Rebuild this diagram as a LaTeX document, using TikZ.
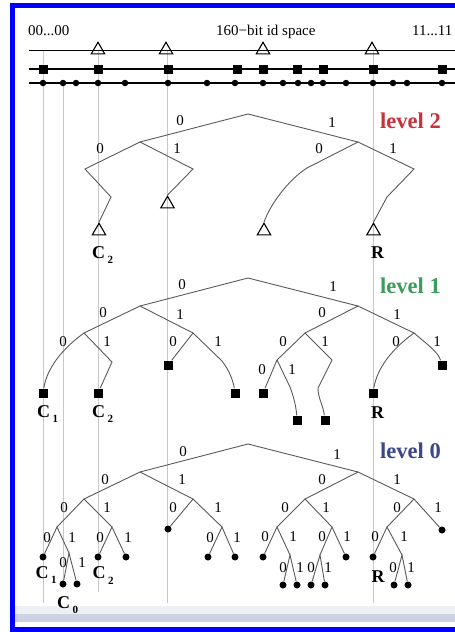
\documentclass[tikz,border=0pt]{standalone}
\usepackage{fontspec}
\setmainfont{Liberation Serif}
\usetikzlibrary{shapes.geometric}
\definecolor{lvred}{RGB}{200,50,60}
\definecolor{lvgreen}{RGB}{60,156,90}
\definecolor{lvblue}{RGB}{60,70,136}
\definecolor{edgegray}{RGB}{90,90,90}
\definecolor{guidegray}{RGB}{200,200,200}
\definecolor{framebl}{RGB}{0,0,255}
\definecolor{barcol}{RGB}{205,211,227}
\newcommand{\csub}[2]{C\hspace{2.5pt}\raisebox{-5.5pt}{\fontsize{11}{11}\selectfont #2}}
\begin{document}
\begin{tikzpicture}[x=1pt,y=-1pt,
 edge/.style={draw=edgegray, line width=0.9pt},
 guide/.style={draw=guidegray, line width=0.6pt},
 axis/.style={draw=black, line width=1.4pt},
 leafsq/.style={fill=black, minimum size=9pt, inner sep=0pt},
 leafdot/.style={circle, fill=black, minimum size=7pt, inner sep=0pt},
 leaftri/.style={regular polygon, regular polygon sides=3, draw=black, line width=1.1pt, minimum size=15.5pt, inner sep=0pt},
 bit/.style={font=\fontsize{15}{15}\selectfont, inner sep=0pt},
 toptext/.style={font=\fontsize{15}{15}\selectfont, inner sep=0pt, anchor=base west},
 cname/.style={font=\fontsize{18}{18}\selectfont\bfseries, inner sep=0pt, anchor=base west},
 lvl/.style={font=\fontsize{22.5}{22.5}\selectfont\bfseries, inner sep=0pt, anchor=base west},
]
\useasboundingbox (0,0) rectangle (455,632);
\clip (0,0) rectangle (455,632);
\fill[white] (0,0) rectangle (455,632);
% frame and bottom bar
\fill[barcol!35] (15,606) rectangle (460,614);
\fill[barcol] (15,614) rectangle (460,622);
\draw[framebl, line width=5pt] (12.5,5.5) rectangle (480,629.5);

% top texts
\node[toptext] (lo) at (28,35) {00...00};
\node[toptext] (idsp) at (216,35) {160−bit id space};
\node[toptext] (hi) at (412,35) {11...11};

% guide lines
\coordinate (g1t) at (43,50.7);  \coordinate (g1b) at (43,603);
\coordinate (g2t) at (63,83);    \coordinate (g2b) at (63,584);
\coordinate (g3t) at (98,50.7);  \coordinate (g3b) at (98,592);
\coordinate (g4t) at (167,50.7); \coordinate (g4b) at (167,603);
\coordinate (g5t) at (373,50.7); \coordinate (g5b) at (373,603);
\foreach \g in {1,...,5} \draw[guide] (g\g t) -- (g\g b);

% id space axes
\coordinate (l1s) at (29,50.7); \coordinate (l1e) at (460,50.7);
\coordinate (l2s) at (29,69);   \coordinate (l2e) at (460,69);
\coordinate (l3s) at (29,83);   \coordinate (l3e) at (460,83);
\draw[axis, line width=1.2pt] (l1s) -- (l1e);
\draw[axis] (l2s) -- (l2e);
\draw[axis] (l3s) -- (l3e);
\foreach \x [count=\i] in {98,166,263,372}
  \node[leaftri] (t\i) at (\x,50) {};
\foreach \x [count=\i] in {43,98,168,237,263,297,323,373,442}
  \node[leafsq] (s\i) at (\x,69) {};
\foreach \x [count=\i] in {43,63,76,98,125,168,207,235,263,283,298,311,323,346,373,393,407,442}
  \node[leafdot, minimum size=6.5pt] (d\i) at (\x,83) {};

% ---------------- level 2 ----------------
\node[lvl, text=lvred] (lv2) at (380,128) {level 2};
\coordinate (a) at (248,114);
\coordinate (a0) at (140,142);
\coordinate (a1) at (358,142);
\coordinate (a00) at (85,169);
\coordinate (a00k) at (111,197);
\coordinate (a01) at (193,169);
\coordinate (a10) at (307,168);
\coordinate (a11) at (414,169);
\coordinate (a11k) at (387,197);
\node[leaftri] (a00t) at (99,231) {};
\node[leaftri] (a01t) at (167.5,204) {};
\node[leaftri] (a10t) at (264,231) {};
\node[leaftri] (a11t) at (373.5,231) {};
\draw[edge] (a0) -- (a) -- (a1);
\draw[edge] (a00t.corner 1) -- (a00k) -- (a00) -- (a0) -- (a01) -- (a01t.corner 1);
\draw[edge] (a10t.corner 1) .. controls (270,205) and (288,180) .. (a10) -- (a1) -- (a11) -- (a11k) -- (a11t.corner 1);
\node[bit] (a-l0) at (180,121) {0};
\node[bit] (a-l1) at (332,123) {1};
\node[bit] (a-l00) at (100,149) {0};
\node[bit] (a-l01) at (177,149) {1};
\node[bit] (a-l10) at (319,149) {0};
\node[bit] (a-l11) at (393,149) {1};
\node[cname] (a-c2) at (92,258) {\csub{C}{2}};
\node[cname] (a-r) at (371,258) {R};

% ---------------- level 1 ----------------
\node[lvl, text=lvgreen] (lv1) at (380,293) {level 1};
\coordinate (b) at (248,278);
\coordinate (b0) at (140,306);
\coordinate (b1) at (358,306);
\coordinate (b00) at (84,333);
\coordinate (b01) at (193,333);
\coordinate (b10) at (305,333);
\coordinate (b11) at (414,333);
\coordinate (b001k) at (112,362);
\coordinate (b011k) at (222,361);
\coordinate (b100) at (277,360);
\coordinate (b1001k) at (290,387);
\coordinate (b101k) at (332,360);
\coordinate (b101m) at (318,388);
\node[leafsq] (b000) at (43,393) {};
\node[leafsq] (b001) at (98,393) {};
\node[leafsq] (b010) at (168,365) {};
\node[leafsq] (b011) at (235,393) {};
\node[leafsq] (b1000) at (263,393) {};
\node[leafsq] (b1001) at (297,420) {};
\node[leafsq] (b101) at (325,420) {};
\node[leafsq] (b110) at (373,393) {};
\node[leafsq] (b111) at (442,365) {};
\draw[edge] (b0) -- (b) -- (b1);
\draw[edge] (b00) -- (b0) -- (b01);
\draw[edge] (b10) -- (b1) -- (b11);
\draw[edge] (b000) .. controls (47,368) and (62,349) .. (b00) -- (b001k) -- (b001);
\draw[edge] (b010) -- (b01) -- (b011k) .. controls (229,370) and (233,380) .. (b011);
\draw[edge] (b1000) -- (b100) -- (b10) -- (b101k) -- (b101m) .. controls (318,398) and (323,405) .. (b101);
\draw[edge] (b100) -- (b1001k) .. controls (293,395) and (296,405) .. (b1001);
\draw[edge] (b110) .. controls (377,368) and (392,349) .. (b11) .. controls (428,345) and (438,352) .. (b111);
\node[bit] (b-l0) at (182,285) {0};
\node[bit] (b-l1) at (333,287) {1};
\node[bit] (b-l00) at (103,313) {0};
\node[bit] (b-l01) at (180,315) {1};
\node[bit] (b-l10) at (322,313) {0};
\node[bit] (b-l11) at (397,315) {1};
\node[bit] (b-l000) at (63,342) {0};
\node[bit] (b-l001) at (107,342) {1};
\node[bit] (b-l010) at (173,342) {0};
\node[bit] (b-l011) at (218,342) {1};
\node[bit] (b-l100) at (283,342) {0};
\node[bit] (b-l101) at (325,342) {1};
\node[bit] (b-l110) at (396,342) {0};
\node[bit] (b-l111) at (437,342) {1};
\node[bit] (b-l1000) at (262,370) {0};
\node[bit] (b-l1001) at (292,370) {1};
\node[cname] (b-c1) at (37,417) {\csub{C}{1}};
\node[cname] (b-c2) at (92,417) {\csub{C}{2}};
\node[cname] (b-r) at (371,418) {R};

% ---------------- level 0 ----------------
\node[lvl, text=lvblue] (lv0) at (380,458) {level 0};
\coordinate (c) at (248,444);
\coordinate (c0) at (140,472);
\coordinate (c1) at (358,472);
\coordinate (c00) at (84,499);
\coordinate (c01) at (193,499);
\coordinate (c10) at (305,499);
\coordinate (c11) at (414,499);
\coordinate (c000) at (57,527);
\coordinate (c001) at (112,527);
\coordinate (c011) at (222,527);
\coordinate (c100) at (277,527);
\coordinate (c101) at (332,527);
\coordinate (c110) at (387,527);
\coordinate (c0001) at (69,553);
\coordinate (c1001) at (290,555);
\coordinate (c1010) at (320,555);
\coordinate (c1101) at (402,555);
\node[leafdot] (c010) at (168,529) {};
\node[leafdot] (c111) at (442,530) {};
\node[leafdot] (c0000) at (43,557) {};
\node[leafdot] (c00010) at (63,584) {};
\node[leafdot] (c00011) at (77,584) {};
\node[leafdot] (c0010) at (98,557) {};
\node[leafdot] (c0011) at (126,557) {};
\node[leafdot] (c0110) at (208,557) {};
\node[leafdot] (c0111) at (235,557) {};
\node[leafdot] (c1000) at (263,557) {};
\node[leafdot] (c10010) at (283,585) {};
\node[leafdot] (c10011) at (297,585) {};
\node[leafdot] (c1011) at (346,557) {};
\node[leafdot] (c10100) at (311,585) {};
\node[leafdot] (c10101) at (325,585) {};
\node[leafdot] (c1100) at (373,557) {};
\node[leafdot] (c11010) at (394,585) {};
\node[leafdot] (c11011) at (408,585) {};
\draw[edge] (c0) -- (c) -- (c1);
\draw[edge] (c00) -- (c0) -- (c01);
\draw[edge] (c10) -- (c1) -- (c11);
\draw[edge] (c000) -- (c00) -- (c001);
\draw[edge] (c010) -- (c01) -- (c011);
\draw[edge] (c100) -- (c10) -- (c101);
\draw[edge] (c110) -- (c11) -- (c111);
\draw[edge] (c0000) -- (c000) -- (c0001);
\draw[edge] (c00010) -- (c0001) -- (c00011);
\draw[edge] (c0010) -- (c001) -- (c0011);
\draw[edge] (c0110) -- (c011) -- (c0111);
\draw[edge] (c1000) -- (c100) -- (c1001);
\draw[edge] (c10010) -- (c1001) -- (c10011);
\draw[edge] (c1010) -- (c101) -- (c1011);
\draw[edge] (c10100) -- (c1010) -- (c10101);
\draw[edge] (c1100) -- (c110) -- (c1101);
\draw[edge] (c11010) -- (c1101) -- (c11011);
\node[bit] (c-l0) at (183,452) {0};
\node[bit] (c-l1) at (337,455) {1};
\node[bit] (c-l00) at (105,480) {0};
\node[bit] (c-l01) at (182,480) {1};
\node[bit] (c-l10) at (322,480) {0};
\node[bit] (c-l11) at (397,480) {1};
\node[bit] (c-l000) at (64,508) {0};
\node[bit] (c-l001) at (107,508) {1};
\node[bit] (c-l010) at (173,508) {0};
\node[bit] (c-l011) at (218,508) {1};
\node[bit] (c-l100) at (285,508) {0};
\node[bit] (c-l101) at (326,508) {1};
\node[bit] (c-l110) at (397,508) {0};
\node[bit] (c-l111) at (438,508) {1};
\node[bit] (c-l0000) at (47,538) {0};
\node[bit] (c-l0001) at (72,538) {1};
\node[bit] (c-l0010) at (100,538) {0};
\node[bit] (c-l0011) at (128,538) {1};
\node[bit] (c-l0110) at (210,538) {0};
\node[bit] (c-l0111) at (237,538) {1};
\node[bit] (c-l1000) at (265,537) {0};
\node[bit] (c-l1001) at (293,537) {1};
\node[bit] (c-l1010) at (322,537) {0};
\node[bit] (c-l1011) at (347,537) {1};
\node[bit] (c-l1100) at (375,537) {0};
\node[bit] (c-l1101) at (404,537) {1};
\node[bit] (c-l00010) at (63,563) {0};
\node[bit] (c-l00011) at (82,563) {1};
\node[bit] (c-l10010) at (283,568) {0};
\node[bit] (c-l10011) at (300,568) {1};
\node[bit] (c-l10100) at (311,568) {0};
\node[bit] (c-l10101) at (328,568) {1};
\node[bit] (c-l11010) at (393,568) {0};
\node[bit] (c-l11011) at (411,568) {1};
\node[cname] (c-c1) at (35.5,578) {\csub{C}{1}};
\node[cname] (c-c2) at (92.5,578.5) {\csub{C}{2}};
\node[cname] (c-c0) at (57,608) {\csub{C}{0}};
\node[cname] (c-r) at (371.5,582) {R};
\end{tikzpicture}
\end{document}
